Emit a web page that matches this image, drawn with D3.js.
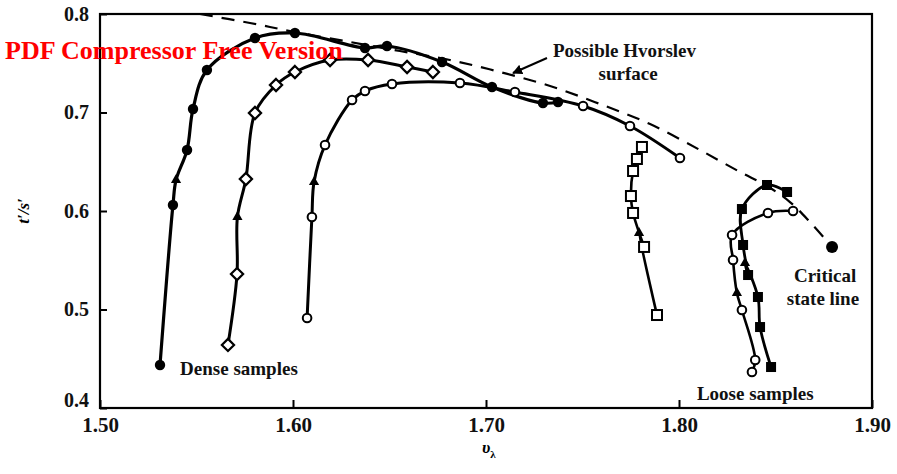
<!DOCTYPE html>
<html><head><meta charset="utf-8">
<script src="https://cdn.jsdelivr.net/npm/d3@7"></script>
<style>body{margin:0;background:#fff}svg{display:block}</style>
</head><body>
<svg id="c" width="897" height="474"></svg>
<script>
// ---- data (x = v_lambda, y = t'/s') ----
const xTicks = [1.50, 1.60, 1.70, 1.80, 1.90];
const yTicks = [0.4, 0.5, 0.6, 0.7, 0.8];

const denseFilled = [[1.5311,0.4437],[1.5378,0.6061],[1.5451,0.6619],[1.5482,0.7036],[1.5554,0.7431],[1.5803,0.7756],[1.6010,0.7807],[1.6373,0.7655],[1.6487,0.7675],[1.6772,0.7513],[1.7031,0.7259],[1.7295,0.7096],[1.7373,0.7107]];
const denseDiamond = [[1.5663,0.4640],[1.5710,0.5360],[1.5756,0.6325],[1.5803,0.6995],[1.5912,0.7279],[1.6010,0.7411],[1.6192,0.7533],[1.6389,0.7533],[1.6591,0.7462],[1.6725,0.7411]];
const denseOpen = [[1.6073,0.4914],[1.6098,0.5939],[1.6166,0.6670],[1.6306,0.7127],[1.6373,0.7218],[1.6513,0.7289],[1.6865,0.7299],[1.7150,0.7208],[1.7503,0.7066],[1.7746,0.6863],[1.8005,0.6538]];
const openSquare = [[1.7808,0.6650],[1.7782,0.6528],[1.7762,0.6406],[1.7751,0.6152],[1.7762,0.5980],[1.7819,0.5635],[1.7886,0.4944]];
const looseFilledSquare = [[1.8477,0.4416],[1.8420,0.4822],[1.8409,0.5127],[1.8358,0.5350],[1.8332,0.5655],[1.8326,0.6020],[1.8456,0.6264],[1.8560,0.6193]];
const looseOpen = [[1.8378,0.4365],[1.8395,0.4487],[1.8326,0.4995],[1.8280,0.5503],[1.8275,0.5756],[1.8461,0.5980],[1.8591,0.6000]];
// direction triangles: [x, y, series index, insert position in that series]
const triangles = [[1.5394,0.6315,0,2],[1.5712,0.5939,1,2],[1.6109,0.6294,2,2],[1.7793,0.5777,3,6],[1.8342,0.5472,4,3],[1.8300,0.5168,5,3]];
const hvorslev = [[1.5518,0.8000],[1.5777,0.7909],[1.6010,0.7817],[1.6295,0.7716],[1.6554,0.7624],[1.6813,0.7533],[1.7073,0.7411],[1.7332,0.7269],[1.7591,0.7086],[1.7850,0.6883],[1.8109,0.6619],[1.8316,0.6396],[1.8456,0.6254],[1.8575,0.6091],[1.8679,0.5888],[1.8793,0.5635]];
const criticalPoint = [[1.8793,0.5635]];

// ---- drawing ----
const svg = d3.select("#c");
const x = d3.scaleLinear().domain([1.5, 1.9]).range([100, 872]);
const y = d3.scaleLinear().domain([0.4, 0.8]).range([408, 14]);
const serif = "'Liberation Serif','DejaVu Serif',serif";

// frame
svg.append("rect").attr("x", x(1.5)).attr("y", y(0.8))
  .attr("width", x(1.9) - x(1.5)).attr("height", y(0.4) - y(0.8))
  .attr("fill", "none").attr("stroke", "#000").attr("stroke-width", 2.2);

// axes
const gx = svg.append("g").attr("transform", `translate(0,${y(0.4)})`)
  .call(d3.axisBottom(x).tickValues(xTicks).tickFormat(d3.format(".2f")).tickSizeInner(-8).tickSizeOuter(0).tickPadding(9));
const gy = svg.append("g").attr("transform", `translate(${x(1.5)},0)`)
  .call(d3.axisLeft(y).tickValues(yTicks).tickFormat(d3.format(".1f")).tickSizeInner(-7).tickSizeOuter(0).tickPadding(11));
[gx, gy].forEach(g => {
  g.select(".domain").remove();
  g.selectAll(".tick line").attr("stroke", "#000").attr("stroke-width", 2);
  g.selectAll("text").attr("font-family", serif).attr("font-weight", "bold").attr("fill", "#111");
});
gx.selectAll("text").attr("font-size", 21);
gy.selectAll("text").attr("font-size", 20);
gy.selectAll(".tick").filter(d => d === 0.4).select("text").attr("dy", "-0.1em");

// axis titles
svg.append("text").attr("transform", `translate(29,${y(0.6)}) rotate(-90)`)
  .attr("text-anchor", "middle").attr("font-family", serif).attr("font-style", "italic")
  .attr("font-weight", "bold").attr("font-size", 17).text("t′/s′");
const xt = svg.append("text").attr("x", 482).attr("y", 453).attr("font-family", serif)
  .attr("font-style", "italic").attr("font-weight", "bold").attr("font-size", 17);
xt.append("tspan").text("υ");
xt.append("tspan").attr("font-size", 11).attr("dy", 5).attr("font-style", "normal").text("λ");

// dashed Hvorslev / critical state line
const lineGen = d3.line().x(d => x(d[0])).y(d => y(d[1])).curve(d3.curveCatmullRom.alpha(0.5));
svg.append("path").attr("d", lineGen(hvorslev)).attr("fill", "none").attr("stroke", "#000")
  .attr("stroke-width", 2.2).attr("stroke-dasharray", "13,9");

// solid curves (triangles lie on the curves)
const series = [denseFilled, denseDiamond, denseOpen, openSquare, looseFilledSquare, looseOpen];
const widths = [3.2, 3, 3, 2.6, 2.8, 2.6];
series.forEach((pts, i) => {
  let path = pts.slice();
  triangles.filter(t => t[2] === i).sort((a, b) => b[3] - a[3])
    .forEach(t => path.splice(t[3], 0, [t[0], t[1]]));
  svg.append("path").attr("d", lineGen(path)).attr("fill", "none")
    .attr("stroke", "#000").attr("stroke-width", widths[i]).attr("stroke-linejoin", "round");
});

// markers
svg.selectAll(".fc").data(denseFilled).join("circle").attr("cx", d => x(d[0])).attr("cy", d => y(d[1]))
  .attr("r", 5.2).attr("fill", "#000");
svg.selectAll(".dm").data(denseDiamond).join("path")
  .attr("d", d3.symbol(d3.symbolDiamond2, 95)).attr("transform", d => `translate(${x(d[0])},${y(d[1])})`)
  .attr("fill", "#fff").attr("stroke", "#000").attr("stroke-width", 2.2);
svg.selectAll(".oc").data(denseOpen.concat(looseOpen)).join("circle").attr("cx", d => x(d[0])).attr("cy", d => y(d[1]))
  .attr("r", 4.3).attr("fill", "#fff").attr("stroke", "#000").attr("stroke-width", 2);
svg.selectAll(".os").data(openSquare).join("rect").attr("x", d => x(d[0]) - 5).attr("y", d => y(d[1]) - 5)
  .attr("width", 10).attr("height", 10).attr("fill", "#fff").attr("stroke", "#000").attr("stroke-width", 2);
svg.selectAll(".fs").data(looseFilledSquare).join("rect").attr("x", d => x(d[0]) - 5).attr("y", d => y(d[1]) - 5)
  .attr("width", 10).attr("height", 10).attr("fill", "#000");
svg.selectAll(".tr").data(triangles).join("path")
  .attr("d", d3.symbol(d3.symbolTriangle, 45)).attr("transform", d => `translate(${x(d[0])},${y(d[1])})`)
  .attr("fill", "#000");
svg.selectAll(".cp").data(criticalPoint).join("circle").attr("cx", d => x(d[0])).attr("cy", d => y(d[1]))
  .attr("r", 6).attr("fill", "#000");

// annotations
function label(tx, ty, txt, anchor) {
  svg.append("text").attr("x", x(tx)).attr("y", y(ty)).attr("text-anchor", anchor || "start")
    .attr("font-family", serif).attr("font-weight", "bold").attr("font-size", 19).attr("fill", "#111").text(txt);
}
label(1.5415, 0.4335, "Dense samples");
label(1.7347, 0.7563, "Possible Hvorslev");
label(1.7736, 0.7330, "surface", "middle");
label(1.8757, 0.5279, "Critical", "middle");
label(1.8746, 0.5046, "state line", "middle");
label(1.8093, 0.4081, "Loose samples");

// arrow
svg.append("defs").append("marker").attr("id", "ah").attr("viewBox", "0 0 10 10").attr("refX", 9).attr("refY", 5)
  .attr("markerWidth", 5).attr("markerHeight", 5).attr("orient", "auto")
  .append("path").attr("d", "M0,0L10,5L0,10z").attr("fill", "#000");
svg.append("line").attr("x1", x(1.7316)).attr("y1", y(0.7553)).attr("x2", x(1.7140)).attr("y2", y(0.7401))
  .attr("stroke", "#000").attr("stroke-width", 2).attr("marker-end", "url(#ah)");

// watermark
svg.append("text").attr("x", 5).attr("y", 59).attr("font-family", serif).attr("font-weight", "bold")
  .attr("font-size", 26).attr("fill", "#f00").text("PDF Compressor Free Version");
</script>
</body></html>
